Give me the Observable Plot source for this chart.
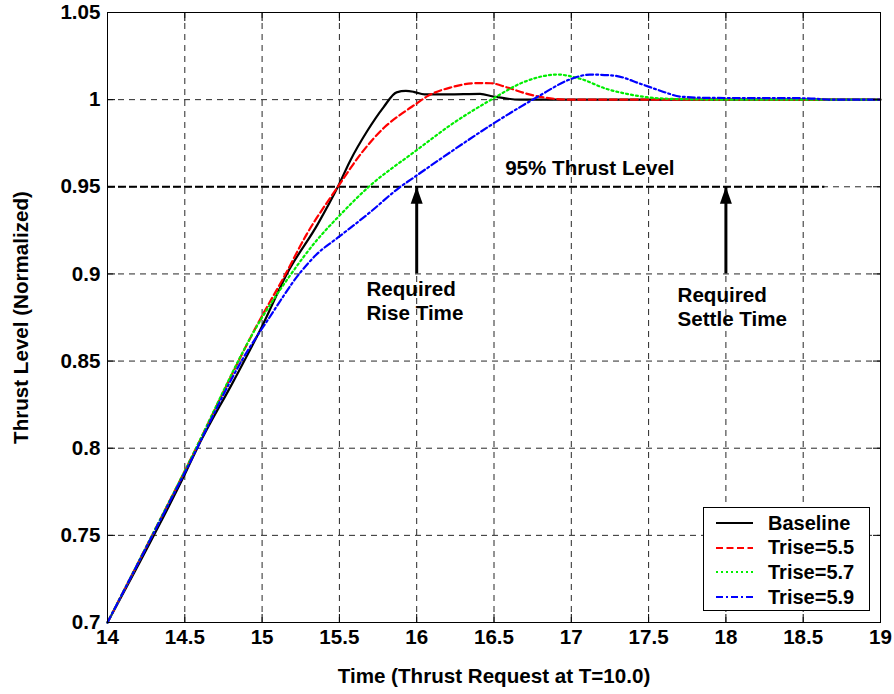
<!DOCTYPE html>
<html>
<head>
<meta charset="utf-8">
<script src="https://cdn.jsdelivr.net/npm/d3@7"></script>
<script src="https://cdn.jsdelivr.net/npm/@observablehq/plot@0.6"></script>
<style>
  body { margin: 0; background: #fff; }
  #wrap { position: relative; width: 894px; height: 694px; font-family: "Liberation Sans", Arial, sans-serif; font-weight: bold; }
  #legend { position: absolute; left: 703px; top: 507px; width: 167px; height: 104px; border: 1px solid #000; background: #fff; box-sizing: border-box; padding-top: 3px; }
  .row { display: flex; align-items: center; height: 24.6px; }
  .row span { font-size: 20px; margin-left: 14px; color: #000; }
</style>
</head>
<body>
<div id="wrap"><div id="legend"></div></div>
<script>
// ---- data ----
const xTicks = [14, 14.5, 15, 15.5, 16, 16.5, 17, 17.5, 18, 18.5, 19];
const xLabels = ["14", "14.5", "15", "15.5", "16", "16.5", "17", "17.5", "18", "18.5", "19"];
const yTicks = [0.7, 0.75, 0.8, 0.85, 0.9, 0.95, 1.0, 1.05];
const yLabels = ["0.7", "0.75", "0.8", "0.85", "0.9", "0.95", "1", "1.05"];

const seriesNames = ["Baseline", "Trise=5.5", "Trise=5.7", "Trise=5.9"];
const seriesColors = ["#000000", "#ff0000", "#00ee00", "#0000ff"];
const seriesDashes = [null, "7,3.5", "2,3", "7,3,2,3"];

const baseT = [14.0, 14.3, 14.5, 14.58, 14.815, 15.0, 15.16, 15.36, 15.49, 15.57, 15.68, 15.785, 15.87, 15.93, 15.98, 16.05, 16.2, 16.41, 16.5, 16.67, 17.5, 18.5, 19.0];
const baseV = [0.700, 0.750, 0.785, 0.800, 0.8385, 0.870, 0.900, 0.9286, 0.950, 0.965, 0.982, 0.9956, 1.0042, 1.005, 1.0045, 1.003, 1.003, 1.0033, 1.0017, 1.000, 1.000, 1.000, 1.000];

const t55T = [14.0, 14.5, 15.0, 15.14, 15.29, 15.49, 15.64, 15.79, 15.92, 16.0, 16.07, 16.22, 16.39, 16.48, 16.585, 16.715, 16.84, 17.0, 18.0, 19.0];
const t55V = [0.700, 0.787, 0.876, 0.898, 0.923, 0.950, 0.969, 0.984, 0.9930, 0.9978, 1.0020, 1.007, 1.0095, 1.0094, 1.007, 1.0033, 1.001, 1.000, 1.000, 1.000];

const t57T = [14.0, 14.5, 15.0, 15.18, 15.36, 15.49, 15.69, 16.0, 16.22, 16.49, 16.69, 16.91, 17.06, 17.23, 17.36, 17.49, 17.66, 18.0, 19.0];
const t57V = [0.700, 0.787, 0.875, 0.899, 0.920, 0.9325, 0.950, 0.971, 0.9855, 1.0004, 1.010, 1.0144, 1.0119, 1.0061, 1.0033, 1.0014, 1.0004, 1.000, 1.000];

const t59T = [14.0, 14.5, 14.9, 15.04, 15.24, 15.35, 15.5, 15.7, 15.88, 16.0, 16.22, 16.5, 16.78, 17.0, 17.12, 17.275, 17.45, 17.58, 17.71, 17.9, 18.5, 18.7, 19.0];
const t59V = [0.700, 0.786, 0.855, 0.874, 0.900, 0.911, 0.9215, 0.9355, 0.949, 0.9565, 0.970, 0.9865, 1.0015, 1.0119, 1.0144, 1.0138, 1.009, 1.005, 1.0017, 1.001, 1.0008, 1.000, 1.000];

const seriesT = [baseT, t55T, t57T, t59T];
const seriesV = [baseV, t55V, t57V, t59V];

const levelValue = 0.95;
const levelStart = 14;
const levelEnd = 18.64;
const levelLabel = "95% Thrust Level";
const levelLabelT = 17.12;
const levelLabelV = 0.9604;

const arrowT = [16, 18];
const arrowFrom = [0.9, 0.9];
const arrowTo = [0.95, 0.95];
const noteText = ["Required\nRise Time", "Required\nSettle Time"];
const noteT = [15.675, 17.687];
const noteV = [0.8848, 0.8812];

// ---- build tables ----
const rows = seriesNames.flatMap((name, s) => seriesT[s].map((t, i) => ({series: name, t, v: seriesV[s][i]})));
const arrows = arrowT.map((t, i) => ({t, from: arrowFrom[i], to: arrowTo[i]}));
const notes = noteText.map((text, i) => ({text, t: noteT[i], v: noteV[i]}));

const arrowHead = {
  draw(ctx) {
    ctx.moveTo(0, 0);
    ctx.lineTo(6, 17);
    ctx.lineTo(-6, 17);
    ctx.closePath();
  }
};

const font = '"Liberation Sans", Arial, sans-serif';
const fs = 20.6;
const grid = {stroke: "#000", strokeOpacity: 0.85, strokeWidth: 1, strokeDasharray: "6,5"};

const chart = Plot.plot({
  width: 894,
  height: 694,
  marginLeft: 107,
  marginRight: 14,
  marginTop: 12,
  marginBottom: 72,
  style: {fontFamily: font, fontSize: fs + "px", fontWeight: "bold", color: "#000", background: "#fff"},
  x: {domain: [14, 19]},
  y: {domain: [0.7, 1.05]},
  marks: [
    Plot.gridX(xTicks, grid),
    Plot.gridY(yTicks, grid),
    Plot.ruleY([levelValue], {x1: levelStart, x2: levelEnd, stroke: "#000", strokeWidth: 2, strokeDasharray: "8,3"}),
    ...seriesNames.map((name, s) =>
      Plot.line(rows.filter(d => d.series === name), {
        x: "t", y: "v", stroke: seriesColors[s], strokeWidth: 2.2,
        strokeDasharray: seriesDashes[s], curve: "monotone-x"
      })
    ),
    Plot.ruleX(arrows, {x: "t", y1: "from", y2: "to", stroke: "#000", strokeWidth: 3}),
    Plot.dot(arrows, {x: "t", y: "to", symbol: arrowHead, fill: "#000", stroke: null, r: 5}),
    Plot.text([levelLabel], {x: levelLabelT, y: levelLabelV, text: d => d, fontSize: fs, fontWeight: "bold", fill: "#000"}),
    Plot.text(notes, {x: "t", y: "v", text: "text", textAnchor: "start", lineAnchor: "middle", lineHeight: 1.17, fontSize: fs, fontWeight: "bold", fill: "#000"}),
    Plot.frame({stroke: "#000", strokeWidth: 1}),
    // inward tick marks on all four sides
    Plot.axisX(xTicks, {anchor: "bottom", tickSize: 8, dy: -8, tickFormat: () => "", label: null}),
    Plot.axisX(xTicks, {anchor: "top", tickSize: 8, dy: 8, tickFormat: () => "", label: null}),
    Plot.axisY(yTicks, {anchor: "left", tickSize: 8, dx: 8, tickFormat: () => "", label: null}),
    Plot.axisY(yTicks, {anchor: "right", tickSize: 8, dx: -8, tickFormat: () => "", label: null}),
    // labels
    Plot.axisX(xTicks, {anchor: "bottom", tickSize: 0, tickPadding: 7, tickFormat: d => xLabels[xTicks.indexOf(d)],
      label: "Time (Thrust Request at T=10.0)", labelAnchor: "center", labelArrow: "none", labelOffset: 60, fontSize: fs, fontWeight: "bold"}),
    Plot.axisY(yTicks, {anchor: "left", tickSize: 0, tickPadding: 7, tickFormat: d => yLabels[yTicks.indexOf(d)],
      label: "Thrust Level (Normalized)", labelAnchor: "center", labelArrow: "none", labelOffset: 94, fontSize: fs, fontWeight: "bold"})
  ]
});
document.getElementById("wrap").prepend(chart);

// ---- legend ----
const legend = d3.select("#legend");
seriesNames.forEach((name, s) => {
  const row = legend.append("div").attr("class", "row");
  const svg = row.append("svg").attr("width", 50).attr("height", 24);
  svg.append("line").attr("x1", 12).attr("x2", 49).attr("y1", 12).attr("y2", 12)
    .attr("stroke", seriesColors[s]).attr("stroke-width", 2)
    .attr("stroke-dasharray", seriesDashes[s]);
  row.append("span").text(name);
});
</script>
</body>
</html>
